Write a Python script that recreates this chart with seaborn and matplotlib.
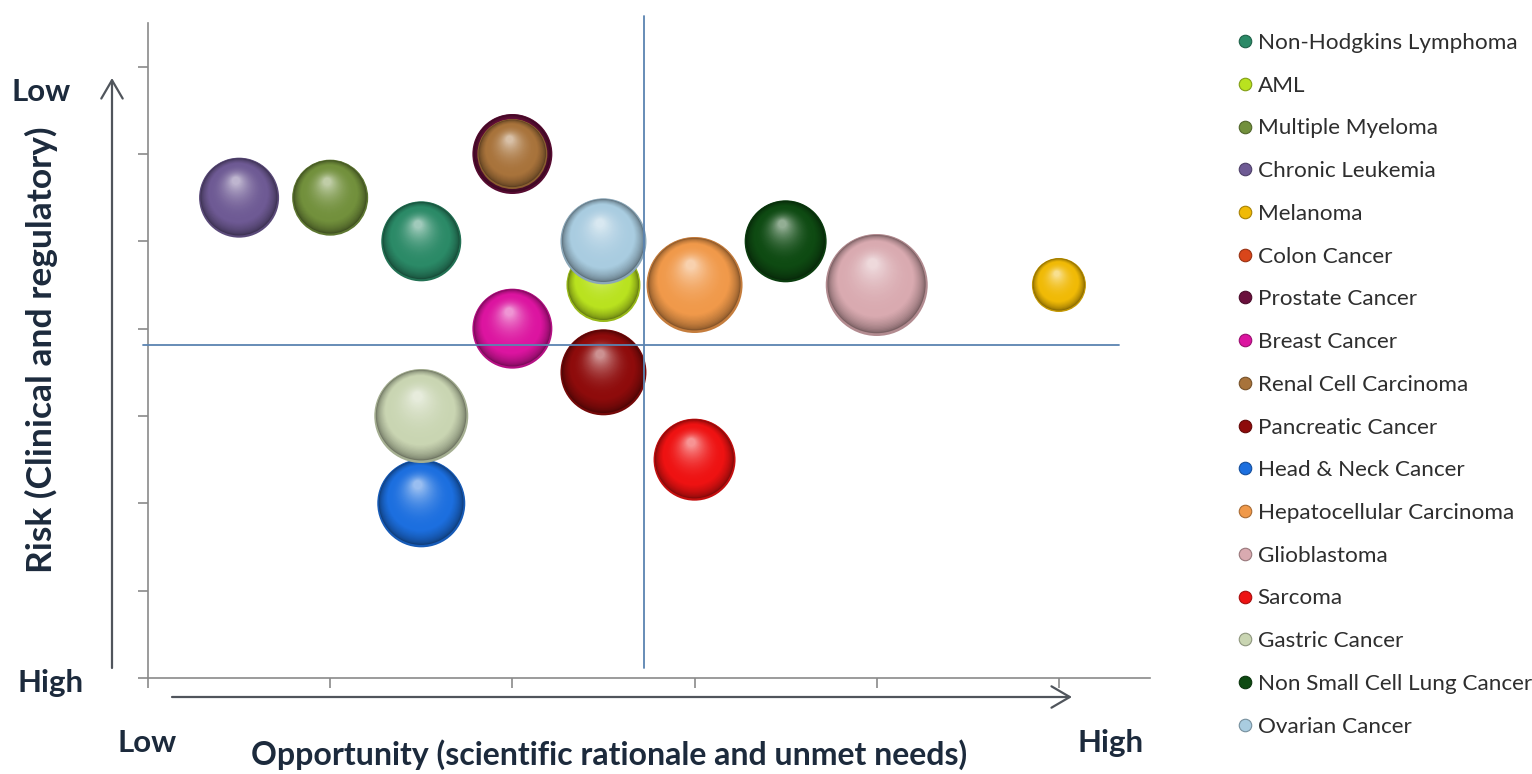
import numpy as np
import pandas as pd
import matplotlib
matplotlib.use("Agg")
import matplotlib.pyplot as plt
from matplotlib.colors import to_rgb
from matplotlib.lines import Line2D
from matplotlib.patches import FancyArrowPatch
import seaborn as sns

# ---- data -------------------------------------------------------------
indications = [
    "Non-Hodgkins Lymphoma", "AML", "Multiple Myeloma", "Chronic Leukemia",
    "Melanoma", "Colon Cancer", "Prostate Cancer", "Breast Cancer",
    "Renal Cell Carcinoma", "Pancreatic Cancer", "Head & Neck Cancer",
    "Hepatocellular Carcinoma", "Glioblastoma", "Sarcoma", "Gastric Cancer",
    "Non Small Cell Lung Cancer", "Ovarian Cancer",
]
opportunity = [1.5, 2.5, 1.0, 0.5, 5.0, 2.5, 2.0, 2.0, 2.0, 2.5, 1.5, 3.0, 4.0, 3.0, 1.5, 3.5, 2.5]
risk        = [5.0, 4.5, 5.5, 5.5, 4.5, 3.5, 6.0, 4.0, 6.0, 3.5, 2.0, 4.5, 4.5, 2.5, 3.0, 5.0, 5.0]
bubble_size = [40, 37, 38, 40, 27, 35, 40, 40, 35, 43, 44, 48, 51, 41, 47, 41, 43]
colors = [
    "#2b8a67", "#b9e21f", "#72903c", "#6e5a94", "#f0ba06", "#d9461a",
    "#6a0f3c", "#dc14a0", "#a8733b", "#8e0b0b", "#1c6fdf", "#f0994a",
    "#d9aab0", "#ee1212", "#c9d5b2", "#0e4a12", "#a9cce0",
]
quadrant_x = 2.72
quadrant_y = 3.81

# ---- figure -----------------------------------------------------------
sns.set_theme(style="white")
plt.rcParams["font.family"] = ["Lato", "DejaVu Sans"]

W, H, DPI = 1532, 774, 100
fig = plt.figure(figsize=(W / DPI, H / DPI), dpi=DPI)
left_px, right_px, top_px, bottom_px = 148, 1150, 23, 678
ax = fig.add_axes([left_px / W, 1 - bottom_px / H,
                   (right_px - left_px) / W, (bottom_px - top_px) / H])
XMAX, YMAX = 5.5, 7.5
ax.set_xlim(0, XMAX)
ax.set_ylim(0, YMAX)

px_per_x = (right_px - left_px) / XMAX
px_per_y = (bottom_px - top_px) / YMAX


def mix(c1, c2, t):
    a, b = np.array(to_rgb(c1)), np.array(to_rgb(c2))
    return tuple(a + (b - a) * t)


# shaded spheres: stacked discs that shrink and lighten toward a highlight
n_layers = 50
t = np.linspace(0, 1, n_layers)
for i, name in enumerate(indications):
    base = colors[i]
    r = bubble_size[i]
    dark = mix(base, "black", 0.45)
    light = mix(base, "white", 0.55)
    layer_cols = []
    for tt in t:
        if tt < 0.04:
            layer_cols.append(mix(dark, base, 0.6))
        elif tt < 0.28:
            layer_cols.append(mix(dark, base, ((tt - 0.04) / 0.24) ** 0.6))
        else:
            layer_cols.append(mix(base, light, ((tt - 0.28) / 0.72) ** 2.2))
    rad = r * (1 - 0.9 * t)
    dx = -0.08 * r * t / px_per_x
    dy = 0.42 * r * t / px_per_y
    layers = pd.DataFrame({
        "x": opportunity[i] + dx,
        "y": risk[i] + dy,
    })
    sns.scatterplot(data=layers, x="x", y="y", ax=ax, legend=False,
                    s=(1.44 * rad) ** 2, linewidth=0, zorder=3 + i * 0.01)
    coll = ax.collections[-1]
    coll.set_facecolors(layer_cols)
    coll.set_edgecolors("none")

# quadrant lines
line_col = "#5b84b1"
ax.plot([quadrant_x, quadrant_x], [0.11, 7.58], color=line_col, lw=1.3,
        clip_on=False, zorder=5)
ax.plot([-0.03, 5.33], [quadrant_y, quadrant_y], color=line_col, lw=1.3,
        clip_on=False, zorder=5)

# axes styling
for s in ["top", "right"]:
    ax.spines[s].set_visible(False)
for s in ["left", "bottom"]:
    ax.spines[s].set_color("#8a8a8a")
    ax.spines[s].set_linewidth(1.2)
ax.set_xticks(range(0, 6))
ax.set_yticks(range(0, 8))
ax.tick_params(axis="both", which="both", direction="out", length=7,
               width=1.2, color="#8a8a8a", labelleft=False, labelbottom=False,
               left=True, bottom=True)
ax.set_xlabel("")
ax.set_ylabel("")

# direction arrows
arrow_kw = dict(arrowstyle="->,head_length=0.6,head_width=0.35",
                mutation_scale=22, color="#50555c", lw=1.6,
                shrinkA=0, shrinkB=0)
fig.add_artist(FancyArrowPatch(
    (112 / W, 1 - 668 / H), (112 / W, 1 - 78 / H),
    transform=fig.transFigure, **arrow_kw))
fig.add_artist(FancyArrowPatch(
    (172 / W, 1 - 697 / H), (1072 / W, 1 - 697 / H),
    transform=fig.transFigure, **arrow_kw))

txt_col = "#1c2a3c"
lbl = dict(color=txt_col, fontsize=22.5, fontweight="bold")
fig.text(12 / W, 1 - 92 / H, "Low", ha="left", va="center", **lbl)
fig.text(18 / W, 1 - 683 / H, "High", ha="left", va="center", **lbl)
fig.text(117 / W, 1 - 743 / H, "Low", ha="left", va="center", **lbl)
fig.text(1077 / W, 1 - 743 / H, "High", ha="left", va="center", **lbl)
fig.text(609 / W, 1 - 755 / H,
         "Opportunity (scientific rationale and unmet needs)",
         ha="center", va="center", color=txt_col, fontsize=23, fontweight="bold")
fig.text(41 / W, 1 - 350 / H, "Risk (Clinical and regulatory)",
         ha="center", va="center", rotation=90, color=txt_col, fontsize=25.5,
         fontweight="bold")

# legend
handles = [Line2D([], [], marker="o", linestyle="none", markersize=9,
                  markerfacecolor=c, markeredgecolor=mix(c, "black", 0.3),
                  markeredgewidth=0.8)
           for c in colors]
fig.legend(handles, indications, loc="upper left",
           bbox_to_anchor=(1234 / W, 1 - 33 / H), frameon=False,
           fontsize=16.2, labelspacing=1.01, handletextpad=0.05,
           handlelength=1.0, borderaxespad=0, borderpad=0,
           labelcolor="#2e2e2e")

fig.savefig("out.png", dpi=DPI, facecolor="white")
